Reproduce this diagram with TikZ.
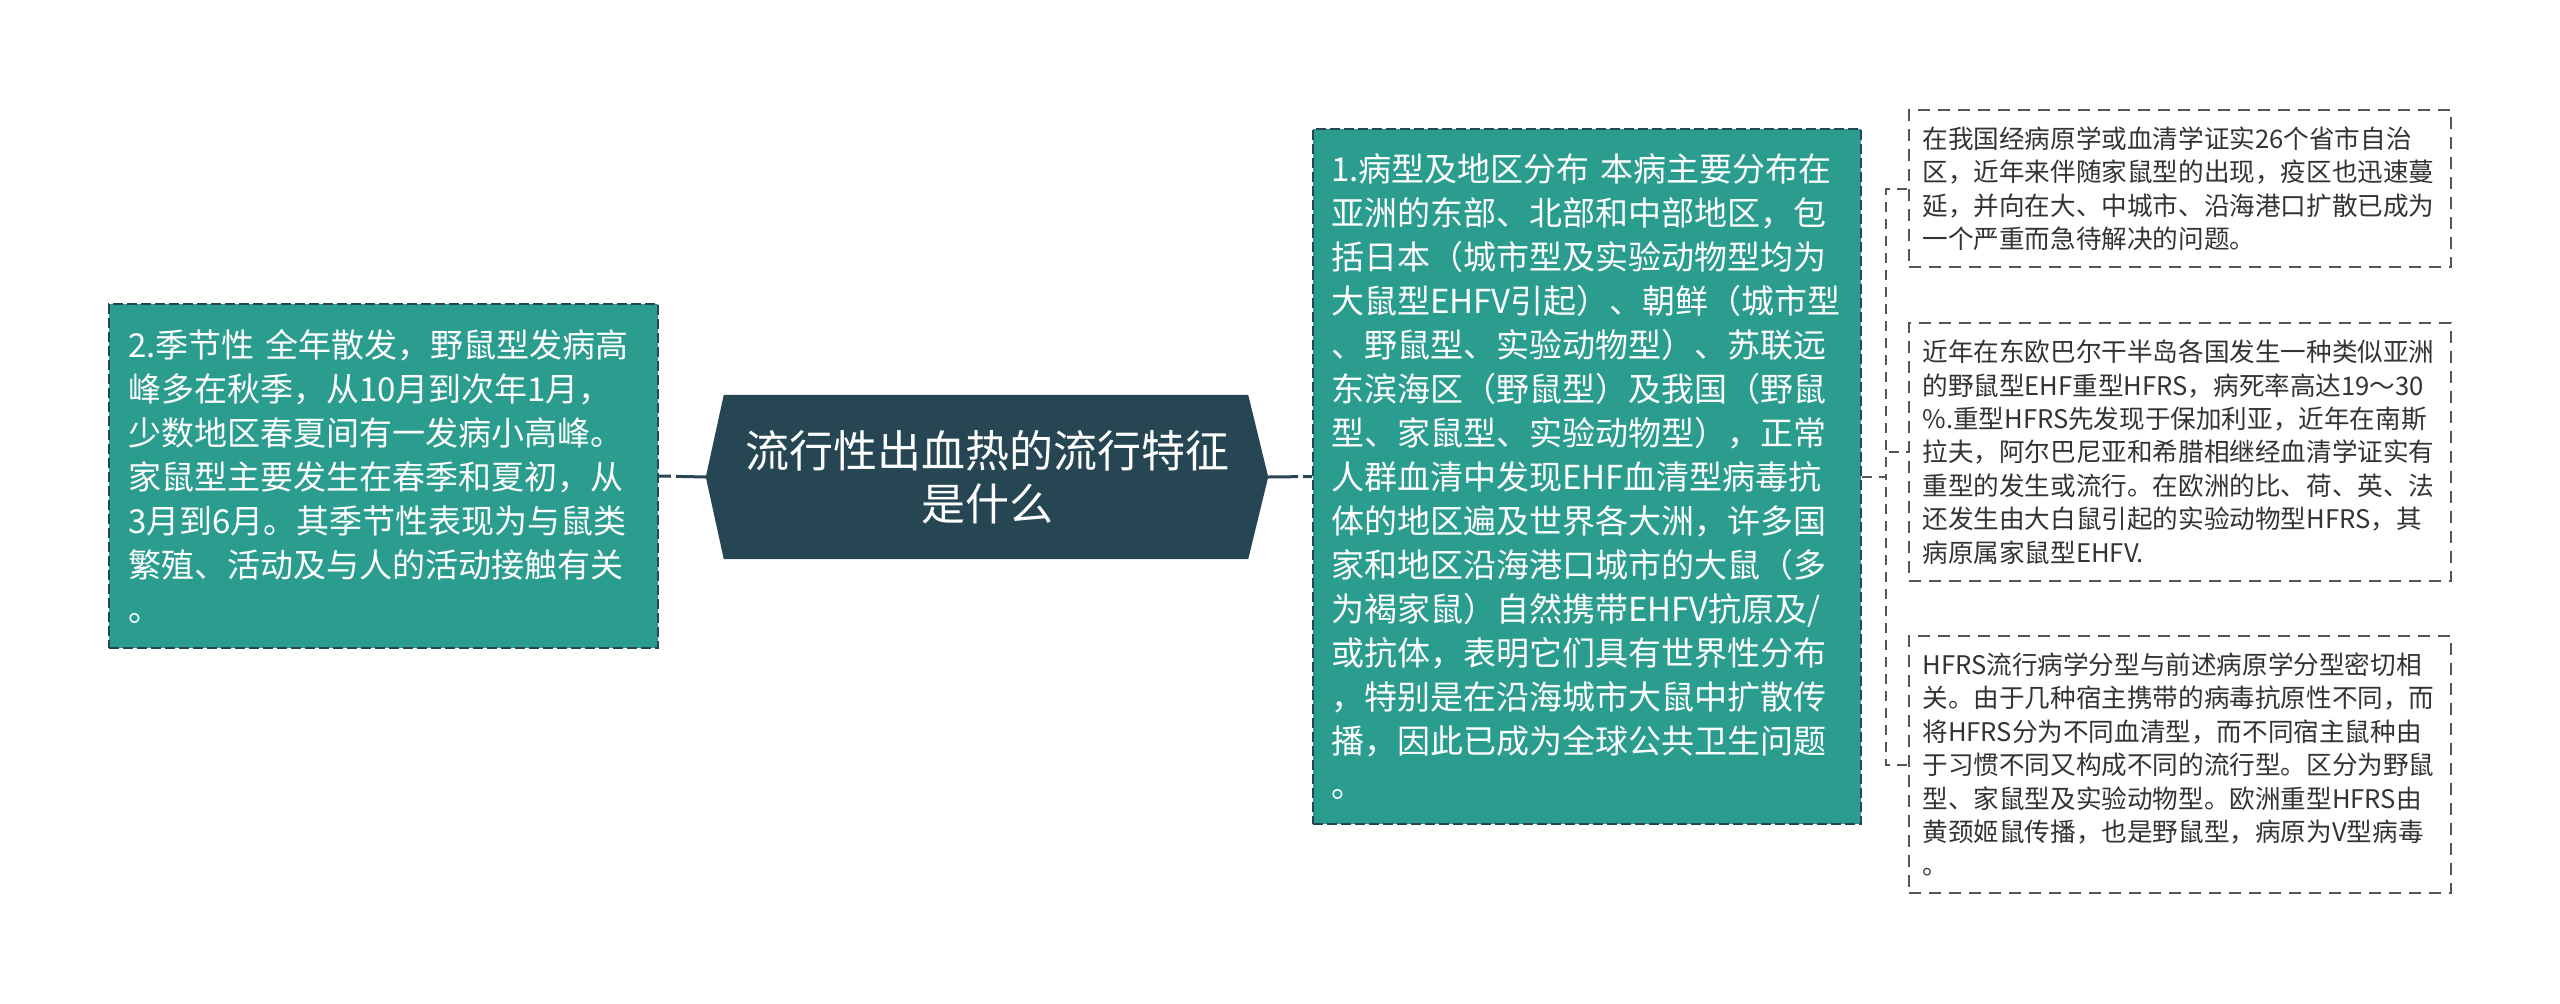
\documentclass[tikz,border=0pt]{standalone}
\usepackage{fontspec}
\setmainfont{Noto Sans CJK SC}
\usetikzlibrary{calc,backgrounds}
\definecolor{tealfill}{HTML}{2A9D8F}
\definecolor{darkroot}{HTML}{264653}
\definecolor{leafline}{HTML}{555555}
\definecolor{leaftext}{HTML}{333333}
\tikzset{
  tealbox/.style={draw=darkroot, line width=2pt, dash pattern=on 10pt off 4pt, fill=tealfill,
    text=white, font=\fontsize{33}{44}\selectfont, align=left, inner ysep=0pt},
  leafbox/.style={draw=leafline, line width=1.8pt, dash pattern=on 12pt off 8pt, fill=white,
    text=leaftext, font=\fontsize{25.6}{33.4}\selectfont, align=left, inner ysep=0pt,
    inner xsep=13.5pt, text width=515pt, minimum width=542pt},
  rootnode/.style={text=white, font=\fontsize{44}{53}\selectfont, align=center, inner sep=0pt},
  rootlink/.style={draw=darkroot, line width=3pt, dash pattern=on 30pt off 5pt},
  leaflink/.style={draw=leafline, line width=2pt, dash pattern=on 10pt off 7pt},
}
\begin{document}
\begin{tikzpicture}[x=1pt,y=-1pt]
\useasboundingbox (0,0) rectangle (2560,1004);

\node[rootnode, minimum width=562pt, minimum height=164pt] (root) at (987,477)
  {流行性出血热的流行特征\\是什么};
\begin{scope}[on background layer]
\fill[white] (0,0) rectangle (2560,1004);
\fill[darkroot] (root.west) -- ($(root.north west)+(18,0)$) -- ($(root.north east)+(-20,0)$)
  -- (root.east) -- ($(root.south east)+(-20,0)$) -- ($(root.south west)+(18,0)$) -- cycle;
\end{scope}

\node[tealbox, inner xsep=19pt, text width=511pt, minimum width=549pt, minimum height=344pt]
  (left) at (383.5,476)
  {2.季节性 全年散发，野鼠型发病高\\
   峰多在秋季，从10月到次年1月，\\
   少数地区春夏间有一发病小高峰。\\
   家鼠型主要发生在春季和夏初，从\\
   3月到6月。其季节性表现为与鼠类\\
   繁殖、活动及与人的活动接触有关\\
   。};

\node[tealbox, inner xsep=18pt, text width=512pt, minimum width=548pt, minimum height=695pt]
  (main) at (1587,476.5)
  {1.病型及地区分布 本病主要分布在\\
   亚洲的东部、北部和中部地区，包\\
   括日本（城市型及实验动物型均为\\
   大鼠型EHFV引起）、朝鲜（城市型\\
   、野鼠型、实验动物型）、苏联远\\
   东滨海区（野鼠型）及我国（野鼠\\
   型、家鼠型、实验动物型），正常\\
   人群血清中发现EHF血清型病毒抗\\
   体的地区遍及世界各大洲，许多国\\
   家和地区沿海港口城市的大鼠（多\\
   为褐家鼠）自然携带EHFV抗原及/\\
   或抗体，表明它们具有世界性分布\\
   ，特别是在沿海城市大鼠中扩散传\\
   播，因此已成为全球公共卫生问题\\
   。};

\node[leafbox, minimum height=157pt] (l1) at (2180,188.5)
  {在我国经病原学或血清学证实26个省市自治\\
   区，近年来伴随家鼠型的出现，疫区也迅速蔓\\
   延，并向在大、中城市、沿海港口扩散已成为\\
   一个严重而急待解决的问题。};

\node[leafbox, minimum height=258pt] (l2) at (2180,452)
  {近年在东欧巴尔干半岛各国发生一种类似亚洲\\
   的野鼠型EHF重型HFRS，病死率高达19～30\\
   \%.重型HFRS先发现于保加利亚，近年在南斯\\
   拉夫，阿尔巴尼亚和希腊相继经血清学证实有\\
   重型的发生或流行。在欧洲的比、荷、英、法\\
   还发生由大白鼠引起的实验动物型HFRS，其\\
   病原属家鼠型EHFV.};

\node[leafbox, minimum height=257pt] (l3) at (2180,764.5)
  {HFRS流行病学分型与前述病原学分型密切相\\
   关。由于几种宿主携带的病毒抗原性不同，而\\
   将HFRS分为不同血清型，而不同宿主鼠种由\\
   于习惯不同又构成不同的流行型。区分为野鼠\\
   型、家鼠型及实验动物型。欧洲重型HFRS由\\
   黄颈姬鼠传播，也是野鼠型，病原为V型病毒\\
   。};

\draw[rootlink] (root.west) -- (left.east);
\draw[rootlink] (root.east) -- (main.west);
\foreach \n in {l1,l2,l3}
  \draw[leaflink] (main.east) -- ++(24,0) |- (\n.west);
\end{tikzpicture}
\end{document}
